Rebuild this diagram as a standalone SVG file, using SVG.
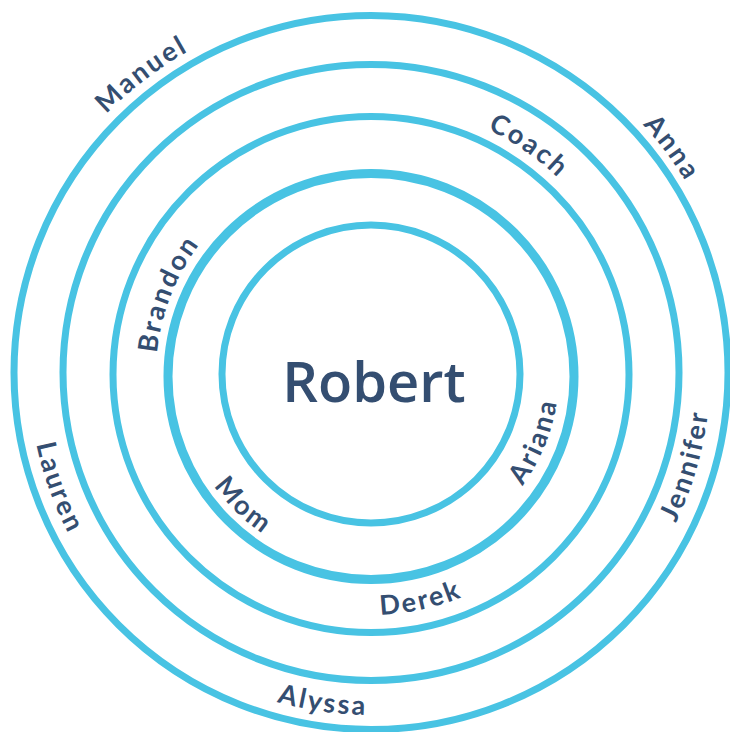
<svg xmlns="http://www.w3.org/2000/svg" width="730" height="732" viewBox="0 0 730 732">
<style>
.ring{fill:none;stroke:#48C3E3;stroke-width:7}
.lbl{font-family:Lato,"Open Sans",sans-serif;font-size:27px;font-weight:bold;fill:#344E71;letter-spacing:2.5px}
.center{font-family:"Open Sans",Lato,sans-serif;font-size:56px;font-weight:600;fill:#344E71}
</style>
<defs>
<path id="pManuel" d="M41.6 544.7 A371 371 0 0 1 622.1 100.9"/>
<path id="pAnna" d="M204.1 44.9 A369 369 0 0 1 640.4 626.1"/>
<path id="pCoach" d="M178.4 183.4 A271 271 0 0 1 617.2 487.2"/>
<path id="pBrandon" d="M258.7 557.3 A215 215 0 0 1 413.9 163.3"/>
<path id="pLauren" d="M200 77.8 A342 342 0 0 0 430.4 710.8"/>
<path id="pJennifer" d="M334.4 711 A339 339 0 0 0 520.7 69.8"/>
<path id="pAriana" d="M331 557.7 A188 188 0 0 0 471.5 215.1"/>
<path id="pMom" d="M211.2 265.8 A193 193 0 0 0 484.2 530.3"/>
<path id="pDerek" d="M148.2 465.8 A241 241 0 0 0 611.8 363.9"/>
<path id="pAlyssa" d="M30.1 384.1 A341 341 0 0 0 694.7 481.1"/>
</defs>
<g id="rings">
<circle id="ring1" class="ring" cx="371" cy="374" r="149"/>
<circle id="ring2" class="ring" cx="371" cy="376.5" r="203" style="stroke-width:9"/>
<circle id="ring3" class="ring" cx="371" cy="374.5" r="258"/>
<circle id="ring4" class="ring" cx="371" cy="372.5" r="308"/>
<circle id="ring5" class="ring" cx="371" cy="372.5" r="357"/>
</g>
<g id="node-robert"><text class="center" x="374" y="402" text-anchor="middle">Robert</text></g>
<g id="node-manuel"><text class="lbl" text-anchor="middle"><textPath href="#pManuel" startOffset="50%">Manuel</textPath></text></g>
<g id="node-anna"><text class="lbl" text-anchor="middle"><textPath href="#pAnna" startOffset="50%">Anna</textPath></text></g>
<g id="node-coach"><text class="lbl" text-anchor="middle"><textPath href="#pCoach" startOffset="50%">Coach</textPath></text></g>
<g id="node-brandon"><text class="lbl" text-anchor="middle"><textPath href="#pBrandon" startOffset="50%">Brandon</textPath></text></g>
<g id="node-lauren"><text class="lbl" text-anchor="middle"><textPath href="#pLauren" startOffset="50%">Lauren</textPath></text></g>
<g id="node-jennifer"><text class="lbl" text-anchor="middle"><textPath href="#pJennifer" startOffset="50%">Jennifer</textPath></text></g>
<g id="node-ariana"><text class="lbl" text-anchor="middle"><textPath href="#pAriana" startOffset="50%">Ariana</textPath></text></g>
<g id="node-mom"><text class="lbl" text-anchor="middle"><textPath href="#pMom" startOffset="50%">Mom</textPath></text></g>
<g id="node-derek"><text class="lbl" text-anchor="middle"><textPath href="#pDerek" startOffset="50%">Derek</textPath></text></g>
<g id="node-alyssa"><text class="lbl" text-anchor="middle"><textPath href="#pAlyssa" startOffset="50%">Alyssa</textPath></text></g>
</svg>
